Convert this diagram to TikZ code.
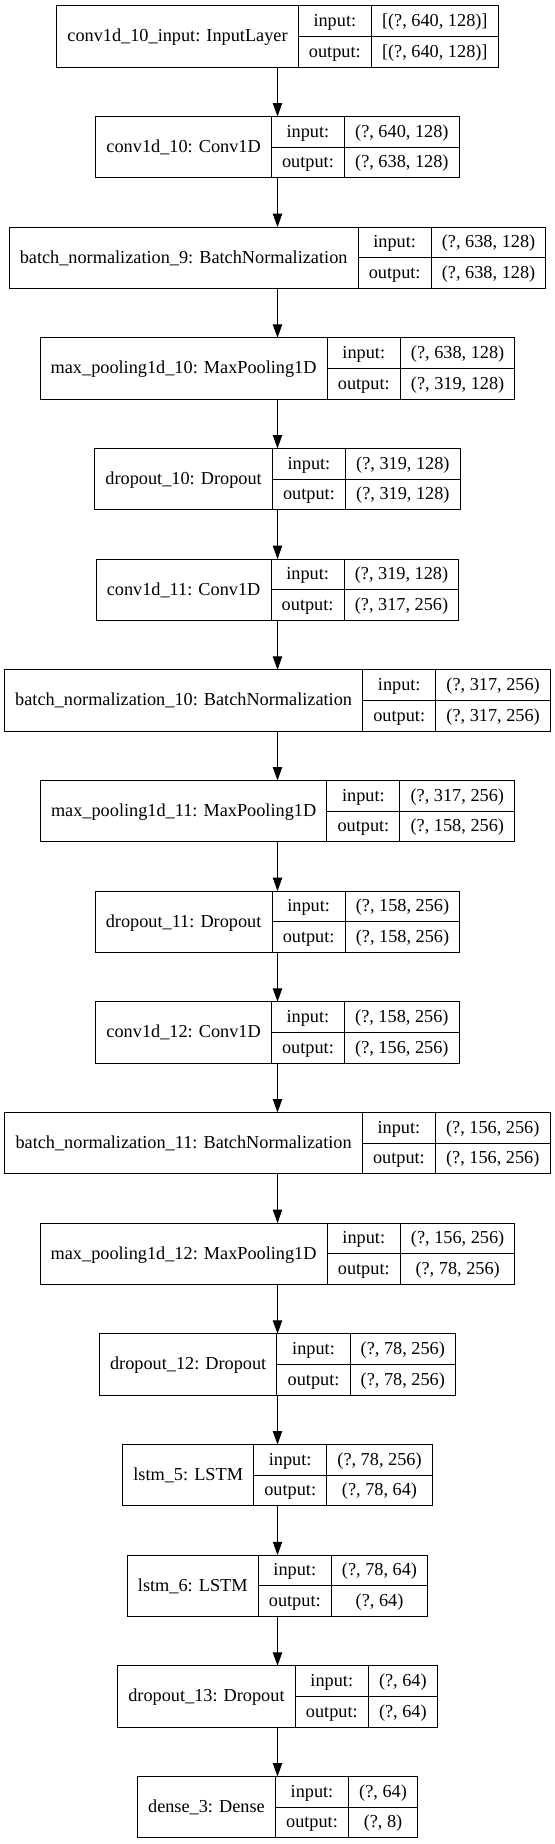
\documentclass[tikz,border=0pt]{standalone}
\usepackage{fontspec}
\setmainfont{Liberation Serif}
\usepackage{tikz}
\usetikzlibrary{arrows.meta,positioning}

\newcommand{\recfont}{\fontsize{13.7}{16}\selectfont}
\newlength{\namew}
\newlength{\iow}
\newlength{\valw}
\newlength{\valwb}

% one layer record: #1 name, #2 row, #3 layer, #4 input shape, #5 output shape
\newcommand{\layerrec}[5]{%
  \pgfinterruptpicture
    \normalfont\recfont
    \settowidth{\namew}{#3}\global\namew=\namew
    \settowidth{\iow}{output:}\global\iow=\iow
    \settowidth{\valw}{#4}\settowidth{\valwb}{#5}%
    \ifdim\valwb>\valw \valw=\valwb\fi
    \global\valw=\valw
  \endpgfinterruptpicture
  \pgfmathsetlengthmacro{\recleft}{208.125pt-(\namew+\iow+\valw+48pt)/2}%
  \node[namecell, minimum width=\namew+16pt, anchor=north west] (#1) at (\recleft, -4.3pt-83pt*#2) {#3};
  \node[iocell, minimum width=\iow+16pt, anchor=north west] (#1-in) at (#1.north east) {input:};
  \node[iocell, minimum width=\iow+16pt, anchor=north west] (#1-out) at (#1-in.south west) {output:};
  \node[iocell, minimum width=\valw+16pt, anchor=west] (#1-inv) at (#1-in.east) {#4};
  \node[iocell, minimum width=\valw+16pt, anchor=west] (#1-outv) at (#1-out.east) {#5};
  \coordinate (#1-t) at (208.125pt, -4.3pt-83pt*#2);
  \coordinate (#1-b) at (208.125pt, -50.3pt-83pt*#2);
}

\begin{document}
\begin{tikzpicture}[
            cell/.style={draw, line width=0.75pt, rectangle, outer sep=0pt, inner xsep=0pt, inner ysep=0pt, text height=11pt, text depth=3pt, font=\recfont},
            namecell/.style={cell, minimum height=46pt},
            iocell/.style={cell, minimum height=23pt},
            flow/.style={line width=0.75pt, -{Triangle[length=10pt,width=7pt]}}
            ]
            \useasboundingbox (0,0) rectangle (416.25pt,-1383pt);

            % Layer records, one per row
            \layerrec{inp}{0}{conv1d\_10\_input: InputLayer}{[(?, 640, 128)]}{[(?, 640, 128)]}
            \layerrec{conv10}{1}{conv1d\_10: Conv1D}{(?, 640, 128)}{(?, 638, 128)}
            \layerrec{bn9}{2}{batch\_normalization\_9: BatchNormalization}{(?, 638, 128)}{(?, 638, 128)}
            \layerrec{pool10}{3}{max\_pooling1d\_10: MaxPooling1D}{(?, 638, 128)}{(?, 319, 128)}
            \layerrec{drop10}{4}{dropout\_10: Dropout}{(?, 319, 128)}{(?, 319, 128)}
            \layerrec{conv11}{5}{conv1d\_11: Conv1D}{(?, 319, 128)}{(?, 317, 256)}
            \layerrec{bn10}{6}{batch\_normalization\_10: BatchNormalization}{(?, 317, 256)}{(?, 317, 256)}
            \layerrec{pool11}{7}{max\_pooling1d\_11: MaxPooling1D}{(?, 317, 256)}{(?, 158, 256)}
            \layerrec{drop11}{8}{dropout\_11: Dropout}{(?, 158, 256)}{(?, 158, 256)}
            \layerrec{conv12}{9}{conv1d\_12: Conv1D}{(?, 158, 256)}{(?, 156, 256)}
            \layerrec{bn11}{10}{batch\_normalization\_11: BatchNormalization}{(?, 156, 256)}{(?, 156, 256)}
            \layerrec{pool12}{11}{max\_pooling1d\_12: MaxPooling1D}{(?, 156, 256)}{(?, 78, 256)}
            \layerrec{drop12}{12}{dropout\_12: Dropout}{(?, 78, 256)}{(?, 78, 256)}
            \layerrec{lstm5}{13}{lstm\_5: LSTM}{(?, 78, 256)}{(?, 78, 64)}
            \layerrec{lstm6}{14}{lstm\_6: LSTM}{(?, 78, 64)}{(?, 64)}
            \layerrec{drop13}{15}{dropout\_13: Dropout}{(?, 64)}{(?, 64)}
            \layerrec{dense3}{16}{dense\_3: Dense}{(?, 64)}{(?, 8)}

            % Arrows
            \draw[flow] (inp-b) -- (conv10-t);
            \draw[flow] (conv10-b) -- (bn9-t);
            \draw[flow] (bn9-b) -- (pool10-t);
            \draw[flow] (pool10-b) -- (drop10-t);
            \draw[flow] (drop10-b) -- (conv11-t);
            \draw[flow] (conv11-b) -- (bn10-t);
            \draw[flow] (bn10-b) -- (pool11-t);
            \draw[flow] (pool11-b) -- (drop11-t);
            \draw[flow] (drop11-b) -- (conv12-t);
            \draw[flow] (conv12-b) -- (bn11-t);
            \draw[flow] (bn11-b) -- (pool12-t);
            \draw[flow] (pool12-b) -- (drop12-t);
            \draw[flow] (drop12-b) -- (lstm5-t);
            \draw[flow] (lstm5-b) -- (lstm6-t);
            \draw[flow] (lstm6-b) -- (drop13-t);
            \draw[flow] (drop13-b) -- (dense3-t);
        \end{tikzpicture}
\end{document}
